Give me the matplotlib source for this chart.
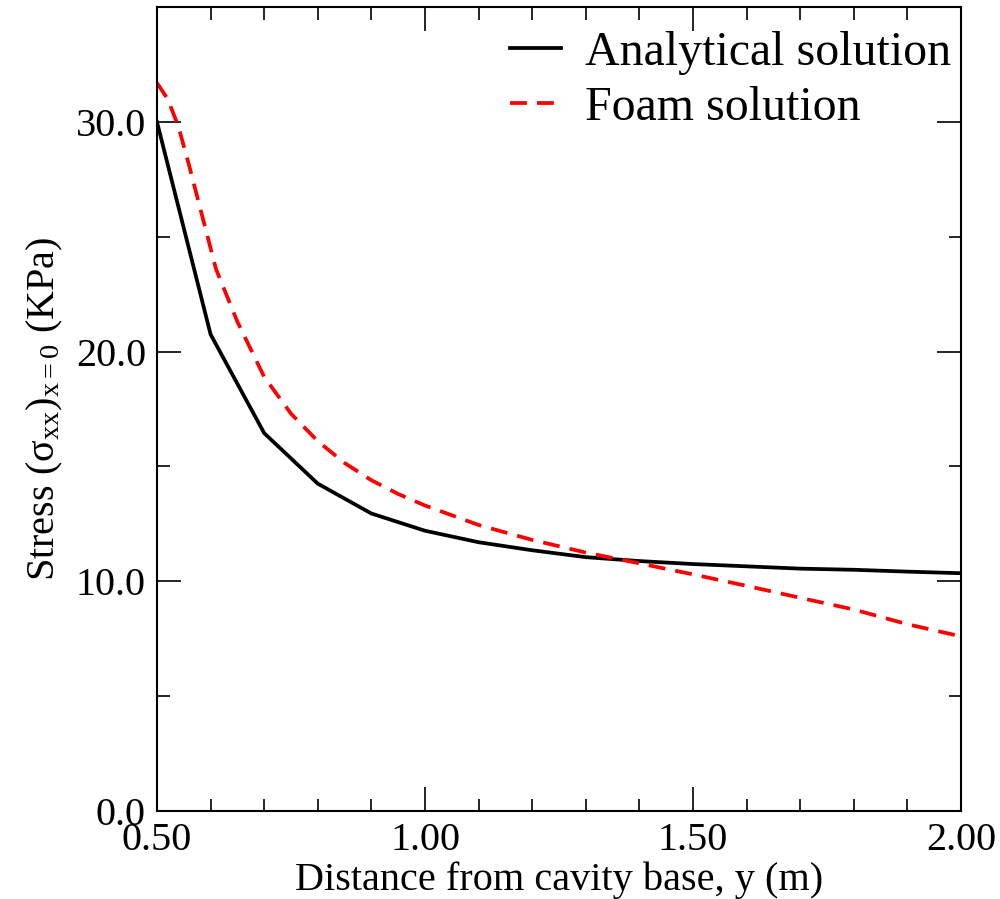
import numpy as np
import matplotlib
matplotlib.use("Agg")
import matplotlib.pyplot as plt
from matplotlib.ticker import MultipleLocator, FormatStrFormatter

plt.rcParams['font.family'] = ['Liberation Serif', 'DejaVu Serif']
plt.rcParams['mathtext.fontset'] = 'custom'
plt.rcParams['mathtext.rm'] = 'Liberation Serif'
plt.rcParams['mathtext.it'] = 'Liberation Serif'

# Analytical solution, sampled every 0.1 m
y_analytical = [0.5, 0.6, 0.7, 0.8, 0.9, 1.0, 1.1, 1.2, 1.3, 1.4,
                1.5, 1.6, 1.7, 1.8, 1.9, 2.0]
stress_analytical = [30.0, 20.75, 16.45, 14.25, 12.95, 12.2, 11.7, 11.35, 11.05, 10.88,
                     10.75, 10.65, 10.55, 10.5, 10.42, 10.35]

# Foam solution
y_foam = [0.5, 0.52, 0.54, 0.56, 0.58, 0.61, 0.65, 0.7, 0.75, 0.8, 0.85, 0.9, 0.95,
          1.0, 1.1, 1.2, 1.3, 1.4, 1.5, 1.6, 1.7, 1.8, 1.9, 2.0]
stress_foam = [31.7, 31.0, 29.8, 28.1, 26.3, 23.6, 21.3, 18.9, 17.3, 16.1, 15.15, 14.4, 13.8,
               13.3, 12.45, 11.8, 11.25, 10.78, 10.3, 9.8, 9.28, 8.77, 8.13, 7.6]

fig = plt.figure(figsize=(10, 8.99), dpi=100)
ax = fig.add_axes([0.157, 0.098, 0.804, 0.894])

ax.plot(y_analytical, stress_analytical, color='black', linewidth=2.7,
        label='Analytical solution')
ax.plot(y_foam, stress_foam, color='red', linewidth=2.7, dashes=(4.5, 2.7),
        label='Foam solution')

ax.set_xlim(0.5, 2.0)
ax.set_ylim(0, 35)
ax.xaxis.set_major_locator(MultipleLocator(0.5))
ax.xaxis.set_minor_locator(MultipleLocator(0.1))
ax.yaxis.set_major_locator(MultipleLocator(10))
ax.yaxis.set_minor_locator(MultipleLocator(5))
ax.xaxis.set_major_formatter(FormatStrFormatter('%.2f'))
ax.yaxis.set_major_formatter(FormatStrFormatter('%.1f'))

ax.tick_params(which='both', direction='in', top=True, right=True,
               labelsize=29, width=1.2)
ax.tick_params(which='major', length=17, pad=8)
ax.tick_params(which='minor', length=9)
for s in ax.spines.values():
    s.set_linewidth(1.5)

ax.set_xlabel('Distance from cavity base, y (m)', fontsize=29, labelpad=2)
ax.set_ylabel(r'Stress ($\sigma_{\rm xx}$)$_{\rm x{=}0}$ (KPa)', fontsize=29, labelpad=8)

ax.legend(loc='upper right', bbox_to_anchor=(1.017, 1.0), frameon=False,
          fontsize=34.5, handlelength=1.06, handletextpad=0.49,
          borderaxespad=0.1, labelspacing=0.22)

fig.savefig('out.png', dpi=100)
